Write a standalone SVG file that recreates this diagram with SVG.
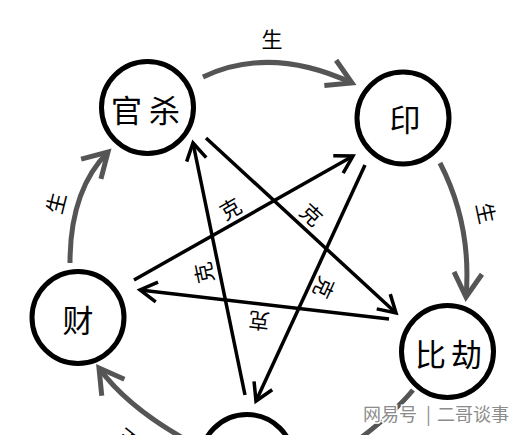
<svg xmlns="http://www.w3.org/2000/svg" width="526" height="435" viewBox="0 0 526 435">
<style>
.node{fill:#fff;stroke:#000;stroke-width:5}
.nt{font-family:"Noto Sans CJK SC","Noto Sans",sans-serif;font-size:31px;fill:#000;text-anchor:middle;dominant-baseline:central}
.ke{stroke:#000;stroke-width:3.5;fill:none}
.sheng{stroke:#555;stroke-width:5;fill:none}
.lbl{font-family:"Noto Sans CJK SC","Noto Sans",sans-serif;font-size:21px;fill:#000;text-anchor:middle;dominant-baseline:central}
.wm{font-family:"Noto Sans CJK SC","Noto Sans",sans-serif;font-size:18px;fill:#8c8c8c;stroke:#fff;stroke-width:3;paint-order:stroke;dominant-baseline:central}
</style>
<defs>
<marker id="ak" markerUnits="userSpaceOnUse" markerWidth="40" markerHeight="40" viewBox="-20 -20 40 40" refX="0" refY="0" orient="auto" overflow="visible">
<path d="M-17,-10 L0,0 L-17,10" fill="none" stroke="#000" stroke-width="3.5"/>
</marker>
<marker id="as" markerUnits="userSpaceOnUse" markerWidth="60" markerHeight="60" viewBox="-30 -30 60 60" refX="0" refY="0" orient="auto" overflow="visible">
<path d="M-24,-14 L0,0 L-24,14" fill="none" stroke="#555" stroke-width="5"/>
</marker>
</defs>
<rect width="526" height="435" fill="#fff"/>
<g id="connectors">
<path class="sheng" d="M203,77 Q270,45 352,83" marker-end="url(#as)"/>
<path class="sheng" d="M440,163 Q472,225 466,297" marker-end="url(#as)"/>
<path class="sheng" d="M70,263 Q70,190 108,152" marker-end="url(#as)"/>
<path class="sheng" d="M190,442 Q128,408 99,368" marker-end="url(#as)"/>
<path class="sheng" d="M413,390 Q395,412 358,440"/>
<line class="ke" x1="245" y1="395" x2="193" y2="143" marker-end="url(#ak)"/>
<line class="ke" x1="206" y1="138" x2="396" y2="313" marker-end="url(#ak)"/>
<line class="ke" x1="134" y1="280" x2="353" y2="156" marker-end="url(#ak)"/>
<line class="ke" x1="365" y1="165" x2="256" y2="401" marker-end="url(#ak)"/>
<line class="ke" x1="389" y1="319" x2="140" y2="290" marker-end="url(#ak)"/>
<text class="lbl" x="272" y="38">生</text>
<text class="lbl" x="487" y="213" transform="rotate(78 487 213)">生</text>
<text class="lbl" x="55" y="203" transform="rotate(-76 55 203)">生</text>
<text class="lbl" x="127" y="441" transform="rotate(-141 127 441)">生</text>
<text class="lbl" x="230" y="208" transform="rotate(-29.5 230 208)">克</text>
<text class="lbl" x="312" y="214" transform="rotate(42.6 312 214)">克</text>
<text class="lbl" x="203" y="273" transform="rotate(-101.7 203 273)">克</text>
<text class="lbl" x="325" y="288" transform="rotate(114.8 325 288)">克</text>
<text class="lbl" x="259" y="322" transform="rotate(186.6 259 322)">克</text>
</g>
<g id="guansha"><circle class="node" cx="147.5" cy="107.5" r="46"/><text class="nt" x="149" y="108" letter-spacing="7">官杀</text></g>
<g id="yin"><circle class="node" cx="403" cy="118" r="46"/><text class="nt" x="405" y="117.5">印</text></g>
<g id="cai"><circle class="node" cx="78" cy="317.5" r="46"/><text class="nt" x="78" y="318">财</text></g>
<g id="bijie"><circle class="node" cx="447.5" cy="351.5" r="46"/><text class="nt" x="451" y="352" letter-spacing="5">比劫</text></g>
<g id="shishang"><circle class="node" cx="247" cy="461" r="46.5"/></g>
<g id="watermark">
<text class="wm" x="363" y="413">网易号</text>
<text class="wm" x="426" y="413">|</text>
<text class="wm" x="437" y="413">二哥谈事</text>
</g>
</svg>
